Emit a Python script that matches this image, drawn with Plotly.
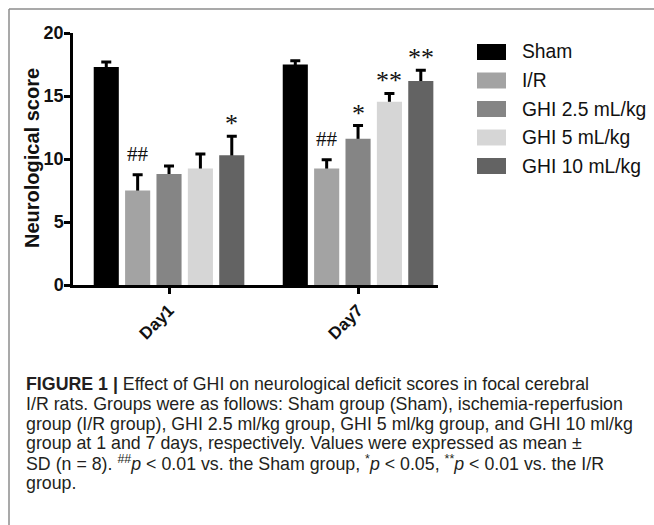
import plotly.graph_objects as go

# ---------------- data ----------------
days = ["Day1", "Day7"]
groups = ["Sham", "I/R", "GHI 2.5 mL/kg", "GHI 5 mL/kg", "GHI 10 mL/kg"]
means = [
    [17.3, 17.5],   # Sham
    [7.5, 9.25],    # I/R
    [8.8, 11.6],    # GHI 2.5
    [9.25, 14.55],  # GHI 5
    [10.3, 16.2],   # GHI 10
]
sds = [
    [0.4, 0.3],
    [1.25, 0.7],
    [0.65, 1.05],
    [1.15, 0.65],
    [1.5, 0.85],
]
sig = [
    ["", ""],
    ["##", "##"],
    ["", "*"],
    ["", "**"],
    ["*", "**"],
]
colors = ["#000000", "#a3a3a3", "#858585", "#d6d6d6", "#636363"]
y_title = "Neurological score"

caption_lines = [
    "<b>FIGURE 1 |</b> Effect of GHI on neurological deficit scores in focal cerebral",
    "I/R rats. Groups were as follows: Sham group (Sham), ischemia-reperfusion",
    "group (I/R group), GHI 2.5 ml/kg group, GHI 5 ml/kg group, and GHI 10 ml/kg",
    "group at 1 and 7 days, respectively. Values were expressed as mean \u00b1",
    "SD (n = 8). <sup>##</sup><i>p</i> &lt; 0.01 vs. the Sham group, <sup>*</sup><i>p</i> &lt; 0.05, "
    "<sup>**</sup><i>p</i> &lt; 0.01 vs. the I/R",
    "group.",
]

# ---------------- layout constants ----------------
W, H = 654, 525
L, R, T, B = 73, 216, 33, 240
PW, PH = W - L - R, H - T - B
BARGAP, BARGROUPGAP = 0.17, 0.2
SANS = "Liberation Sans, Arial, sans-serif"
SERIF = "Liberation Serif, Times New Roman, serif"


def px(xp):
    return (xp - L) / PW


def py(yp):
    return (T + PH - yp) / PH


fig = go.Figure()
# error bars (upward only) carried by transparent bars drawn first;
# the coloured bars drawn afterwards hide the part of the stem inside the bar
for i, g in enumerate(groups):
    fig.add_trace(go.Bar(
        x=days, y=means[i], name=g + " SD", offsetgroup=str(i),
        marker=dict(color="rgba(0,0,0,0)", line=dict(width=0)),
        error_y=dict(type="data", array=sds[i], arrayminus=means[i],
                     symmetric=False, color="black", thickness=3, width=5),
        showlegend=False, hoverinfo="skip",
    ))
for i, g in enumerate(groups):
    fig.add_trace(go.Bar(
        x=days, y=means[i], name=g, offsetgroup=str(i),
        marker=dict(color=colors[i], line=dict(width=0)),
        showlegend=False,
    ))

n = len(groups)
slot = (1 - BARGAP) / n
for i in range(n):
    for j in range(len(days)):
        s = sig[i][j]
        if not s:
            continue
        xc = j - (1 - BARGAP) / 2 + slot * (i + 0.5)
        is_hash = s.startswith("#")
        fig.add_annotation(
            x=xc, y=means[i][j] + sds[i][j], xref="x", yref="y",
            text=s, showarrow=False, yanchor="bottom",
            yshift=7 if is_hash else -4,
            font=dict(family=SERIF, size=21 if is_hash else 26, color="#111"),
        )

# manual legend
row0, rowstep = 52, 28.5
for i, g in enumerate(groups):
    yc = row0 + rowstep * i
    fig.add_shape(type="rect", xref="paper", yref="paper",
                  x0=px(477), x1=px(506), y0=py(yc - 8), y1=py(yc + 8),
                  fillcolor=colors[i], line=dict(width=0))
    fig.add_annotation(xref="paper", yref="paper", x=px(520), y=py(yc),
                       xanchor="left", yanchor="middle", text=g, showarrow=False,
                       font=dict(family=SANS, size=19.3, color="#111"))

# y-axis title
fig.add_annotation(xref="paper", yref="paper", x=px(32), y=py(158),
                   xanchor="center", yanchor="middle", textangle=-90,
                   text="<b>" + y_title + "</b>", showarrow=False,
                   font=dict(family=SANS, size=20, color="#111"))

# frame lines
fig.add_shape(type="line", xref="paper", yref="paper",
              x0=px(9), x1=px(660), y0=py(9), y1=py(9),
              line=dict(color="#8c8c8c", width=1.5))
fig.add_shape(type="line", xref="paper", yref="paper",
              x0=px(9), x1=px(9), y0=py(9), y1=py(530),
              line=dict(color="#8c8c8c", width=1.5))

# caption
cap_y0, cap_step = 384, 19.8
for k, line in enumerate(caption_lines):
    fig.add_annotation(xref="paper", yref="paper", x=px(24), y=py(cap_y0 + cap_step * k),
                       xanchor="left", yanchor="middle", text=line, showarrow=False,
                       font=dict(family=SANS, size=17.8, color="#231f20"))

fig.update_layout(
    width=W, height=H,
    margin=dict(l=L, r=R, t=T, b=B, pad=0),
    paper_bgcolor="white", plot_bgcolor="white",
    barmode="group", bargap=BARGAP, bargroupgap=BARGROUPGAP,
    showlegend=False,
    font=dict(family=SANS, color="#111"),
)
fig.update_xaxes(
    type="category", range=[-0.508, 1.423],
    showline=True, linecolor="black", linewidth=2.5,
    ticks="outside", ticklen=6, tickwidth=2.5, tickcolor="black",
    tickangle=-45, tickfont=dict(family=SANS, size=17, color="#111", weight="bold"),
    showgrid=False, zeroline=False,
)
fig.update_yaxes(
    range=[0, 20], tickvals=[0, 5, 10, 15, 20],
    showline=True, linecolor="black", linewidth=2.5,
    ticks="outside", ticklen=6, tickwidth=2.5, tickcolor="black",
    ticklabelstandoff=-3,
    tickfont=dict(family=SANS, size=18, color="#111", weight="bold"),
    showgrid=False, zeroline=False,
)

fig.write_html("out.html")
